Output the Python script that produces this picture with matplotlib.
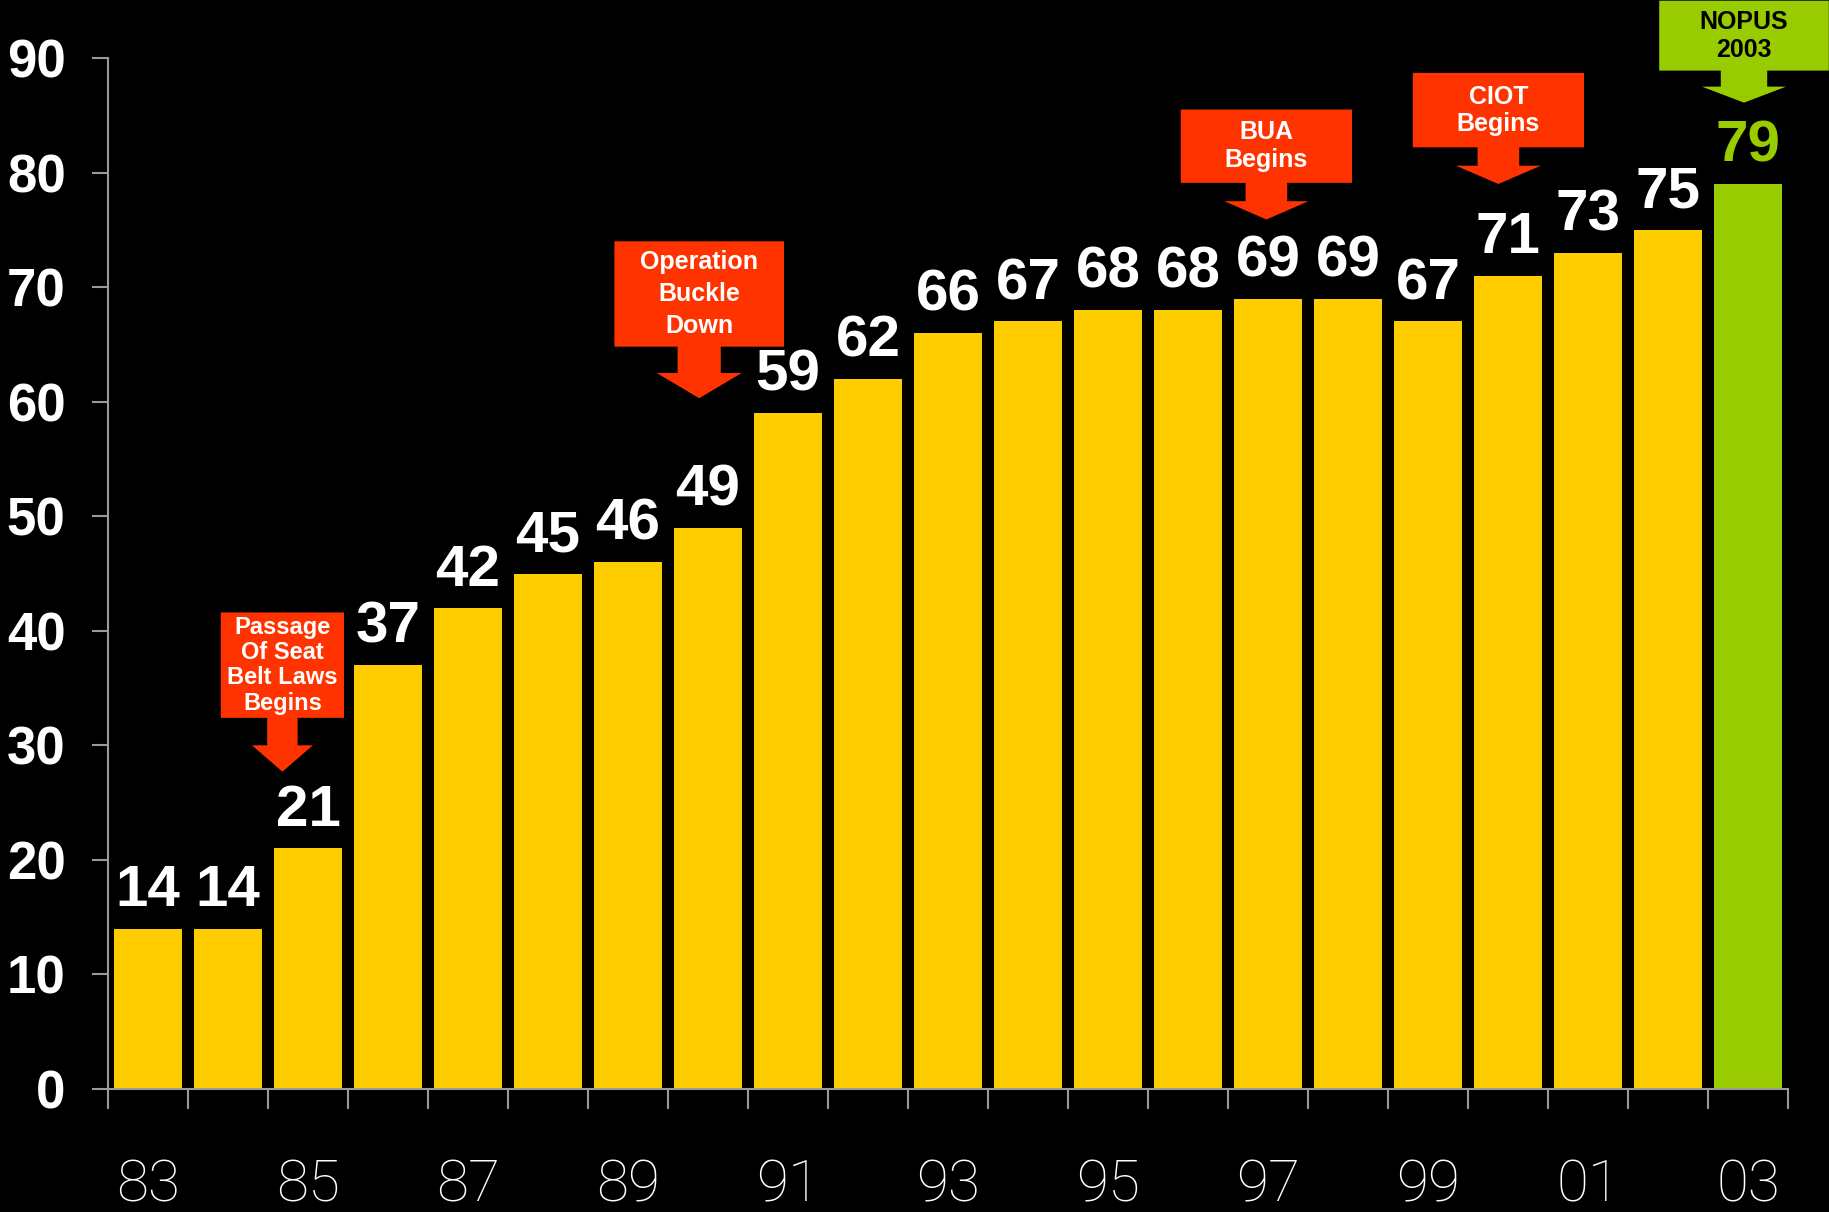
import matplotlib
matplotlib.use('Agg')
import matplotlib.pyplot as plt
from matplotlib.patches import Polygon

# 数据
years = ['83', '84', '85', '86', '87', '88', '89', '90', '91', '92', '93',
         '94', '95', '96', '97', '98', '99', '00', '01', '02', '03']
rates = [14, 14, 21, 37, 42, 45, 46, 49, 59, 62, 66,
         67, 68, 68, 69, 69, 67, 71, 73, 75, 79]
yticks = [0, 10, 20, 30, 40, 50, 60, 70, 80, 90]

# 标注: 文字, 中心x, 框顶, 框底, 框半宽, 杆半宽, 头半宽, 头顶, 尖端, 行距
notes = [
    ('Passage\nOf Seat\nBelt Laws\nBegins', 1.68, 41.6, 32.4, 0.77, 0.19, 0.38, 30.0, 27.7, 1.13),
    ('Operation\nBuckle\nDown', 6.89, 74.0, 64.8, 1.06, 0.27, 0.53, 62.5, 60.3, 1.42),
    ('BUA\nBegins', 13.98, 85.5, 79.1, 1.07, 0.26, 0.525, 77.5, 75.9, 1.2),
    ('CIOT\nBegins', 16.88, 88.7, 82.2, 1.07, 0.26, 0.53, 80.6, 79.0, 1.15),
    ('NOPUS\n2003', 19.95, 95.0, 88.9, 1.06, 0.29, 0.525, 87.5, 86.1, 1.2),
]

yellow = '#FFCC00'
green = '#99CC00'
red = '#FF3300'
grey = '#9a9a9a'

fig = plt.figure(figsize=(18.29, 12.12), dpi=100, facecolor='black')
ax = fig.add_axes([108 / 1829, 123 / 1212, 1680 / 1829, 1031 / 1212])
ax.set_facecolor('black')

x = list(range(len(years)))
colors = [yellow] * (len(years) - 1) + [green]
ax.bar(x, rates, width=0.84, color=colors, zorder=2)

# 柱顶数值
for i, v in enumerate(rates):
    ax.annotate(str(v), (i, v), xytext=(0, 16), textcoords='offset points',
                ha='center', va='baseline', fontsize=42, fontweight='bold',
                family=['Liberation Sans Narrow', 'Liberation Sans', 'DejaVu Sans'],
                color=green if i == len(rates) - 1 else 'white')

# 箭头标注框
for i, (txt, cx, top, bot, bw, sw, hw, htop, tip, ls) in enumerate(notes):
    pts = [(cx - bw, top), (cx + bw, top), (cx + bw, bot), (cx + sw, bot),
           (cx + sw, htop), (cx + hw, htop), (cx, tip), (cx - hw, htop),
           (cx - sw, htop), (cx - sw, bot), (cx - bw, bot)]
    fc = green if i == len(notes) - 1 else red
    tc = 'black' if i == len(notes) - 1 else 'white'
    ax.add_patch(Polygon(pts, closed=True, facecolor=fc, edgecolor='none',
                         zorder=3, clip_on=False))
    fs = 17 if txt.count('\n') == 3 else 18
    ax.text(cx, (top + bot) / 2, txt, ha='center', va='center', color=tc,
            fontsize=fs, fontweight='bold', linespacing=ls,
            family=['Liberation Sans', 'DejaVu Sans'], zorder=4, clip_on=False)

# 坐标轴
ax.set_xlim(-0.5, len(years) - 0.5)
ax.set_ylim(0, 90)
for s in ['top', 'right']:
    ax.spines[s].set_visible(False)
for s in ['left', 'bottom']:
    ax.spines[s].set_color(grey)
    ax.spines[s].set_linewidth(1.5)

ax.set_yticks(yticks)
ax.set_yticklabels([str(t) for t in yticks], fontsize=38, fontweight='bold',
                   family=['Liberation Sans', 'DejaVu Sans'], color='white')
ax.tick_params(axis='y', direction='out', length=11.5, width=1.5, color=grey, pad=19)

ax.set_xticks([i - 0.5 for i in range(len(years) + 1)])
ax.set_xticklabels([])
ax.tick_params(axis='x', which='major', direction='out', length=14.5, width=1.5, color=grey)
ax.set_xticks(x[::2], minor=True)
ax.set_xticklabels(years[::2], minor=True, fontsize=42, fontweight='light',
                   family=['Roboto', 'DejaVu Sans'], color='white')
ax.tick_params(axis='x', which='minor', length=0, pad=50)

fig.savefig('out.png', dpi=100, facecolor='black')
